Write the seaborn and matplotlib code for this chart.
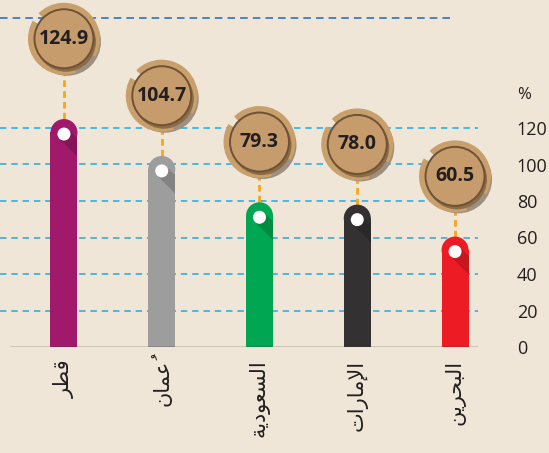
import numpy as np
import pandas as pd
import seaborn as sns
import matplotlib
matplotlib.use("Agg")
import matplotlib.pyplot as plt
import matplotlib.transforms as mtransforms
from matplotlib.patches import Circle, Wedge, Polygon

# ---------------- data ----------------
countries = ["قطر", "عُمان", "السعودية", "الإمارات", "البحرين"]
values = [124.9, 104.7, 79.3, 78.0, 60.5]
value_labels = ["124.9", "104.7", "79.3", "78.0", "60.5"]
bar_colors = ["#a0196a", "#9d9d9d", "#00a651", "#333132", "#ed1c24"]
y_ticks = [0, 20, 40, 60, 80, 100, 120]
unit_label = "%"

# ---------------- simple Arabic shaper (presentation forms) ----------------
FORMS = {
    'ا': ('\uFE8D', '\uFE8E', None, None),
    'إ': ('\uFE87', '\uFE88', None, None),
    'ب': ('\uFE8F', '\uFE90', '\uFE91', '\uFE92'),
    'ة': ('\uFE93', '\uFE94', None, None),
    'ت': ('\uFE95', '\uFE96', '\uFE97', '\uFE98'),
    'ح': ('\uFEA1', '\uFEA2', '\uFEA3', '\uFEA4'),
    'د': ('\uFEA9', '\uFEAA', None, None),
    'ر': ('\uFEAD', '\uFEAE', None, None),
    'س': ('\uFEB1', '\uFEB2', '\uFEB3', '\uFEB4'),
    'ط': ('\uFEC1', '\uFEC2', '\uFEC3', '\uFEC4'),
    'ع': ('\uFEC9', '\uFECA', '\uFECB', '\uFECC'),
    'ق': ('\uFED5', '\uFED6', '\uFED7', '\uFED8'),
    'ل': ('\uFEDD', '\uFEDE', '\uFEDF', '\uFEE0'),
    'م': ('\uFEE1', '\uFEE2', '\uFEE3', '\uFEE4'),
    'ن': ('\uFEE5', '\uFEE6', '\uFEE7', '\uFEE8'),
    'و': ('\uFEED', '\uFEEE', None, None),
    'ي': ('\uFEF1', '\uFEF2', '\uFEF3', '\uFEF4'),
}
LAM_ALEF = {'ا': ('\uFEFB', '\uFEFC'), 'إ': ('\uFEF9', '\uFEFA')}
HARAKAT = set('\u064B\u064C\u064D\u064E\u064F\u0650\u0651\u0652')


def shape(word):
    units = []
    for ch in word:
        if ch in HARAKAT and units:
            units[-1][1] += ch
        else:
            units.append([ch, ''])
    merged = []
    k = 0
    while k < len(units):
        c, m = units[k]
        if c == 'ل' and k + 1 < len(units) and units[k + 1][0] in LAM_ALEF:
            merged.append(['LA' + units[k + 1][0], m + units[k + 1][1]])
            k += 2
        else:
            merged.append([c, m])
            k += 1

    def joins_left(c):
        if c.startswith('LA'):
            return False
        return FORMS[c][2] is not None

    out = []
    n = len(merged)
    for k, (c, m) in enumerate(merged):
        prev = k > 0 and joins_left(merged[k - 1][0])
        nxt = (k + 1 < n) and joins_left(c)
        if c.startswith('LA'):
            g = LAM_ALEF[c[2]][1 if prev else 0]
        else:
            iso, fin, ini, med = FORMS[c]
            if prev and nxt:
                g = med
            elif prev:
                g = fin
            elif nxt:
                g = ini
            else:
                g = iso
        out.append(g + m)
    return ''.join(reversed(out))


# ---------------- style ----------------
BG = "#efe6d8"
TXT = "#231f20"
sns.set_style("white")
plt.rcParams['font.family'] = ['Open Sans', 'DejaVu Sans']

W, H = 549, 453
fig = plt.figure(figsize=(W / 100, H / 100), dpi=100, facecolor=BG)
AX_L, AX_R, AX_B = 10, 478, 347  # pixel geometry
ax = fig.add_axes([AX_L / W, (H - AX_B) / H, (AX_R - AX_L) / W, AX_B / H])
ax.set_facecolor(BG)

PPU = 219 / 120.0           # pixels per y unit
YMAX = AX_B / PPU
XL, XR = -0.552, 4.235
PPX = (AX_R - AX_L) / (XR - XL)

shaped = [shape(c) for c in countries]
df = pd.DataFrame({"country": shaped, "value": values})
sns.barplot(data=df, x="country", y="value", hue="country", palette=bar_colors,
            width=27 / PPX, saturation=1, legend=False, ax=ax, zorder=3)
ax.set_xlim(XL, XR)
ax.set_ylim(0, YMAX)
bars = list(ax.patches)[:len(values)]


def px_trans(x, y):
    return mtransforms.ScaledTranslation(x, y, ax.transData)


# grid lines
for t in y_ticks[1:]:
    ax.axhline(t, xmin=-10 / (AX_R - AX_L), xmax=1, color="#1fa9e6", lw=1.1,
               ls=(0, (4.2, 3.2)), zorder=1, clip_on=False)
ax.hlines(180, XL - 10 / PPX, XL + (452 - AX_L) / PPX, color="#3b7cc2", lw=1.3,
          ls=(0, (4.2, 2.8)), zorder=1, clip_on=False)
ax.axhline(0, color="#3a3536", lw=1.0, zorder=4)

# rounded bars, dots, connectors, badges
R = 13.5
r_data = R / PPU
badge_gap = [44, 33, 33, 33, 33]
for p, v, c, lab, gap in zip(bars, values, bar_colors, value_labels, badge_gap):
    xc = p.get_x() + p.get_width() / 2
    p.set_height(v - r_data + 0.3)
    p.set_edgecolor("none")
    ax.add_patch(Circle((0, 0), R, transform=px_trans(xc, v - r_data),
                        color=c, zorder=3, lw=0, clip_on=False))
    # dot shadow streak
    L = 28
    nrm = 6.5 / np.sqrt(2)
    sh = Polygon([(nrm, nrm), (-nrm, -nrm), (-nrm + L, -nrm - L), (nrm + L, nrm - L)],
                 closed=True, transform=mtransforms.Affine2D().translate(0, -15) + px_trans(xc, v),
                 color="black", alpha=0.16, lw=0, zorder=3.2)
    ax.add_patch(sh)
    sh.set_clip_path(p)
    ax.add_patch(Circle((0, -15), 6.5, transform=px_trans(xc, v),
                        color="white", zorder=3.5, lw=0, clip_on=False))
    # connector
    by = v + gap
    ax.plot([xc, xc], [v, by], color="#f9a51a", lw=2.0, ls=(0, (2.4, 1.5)), zorder=2,
            clip_on=False)
    # badge
    t = px_trans(xc, by)
    ax.add_patch(Circle((3, -3), 34, transform=t, color="#9b9182", lw=0, zorder=5,
                        clip_on=False))
    ax.add_patch(Wedge((0, 0), 36, -30, 135, width=8, transform=t,
                       color="#c9a06c", lw=0, zorder=5.1, clip_on=False))
    ax.add_patch(Wedge((0, 0), 36, 150, 290, width=8, transform=t,
                       color="#c9a06c", lw=0, zorder=5.1, clip_on=False))
    ax.add_patch(Circle((2, -3), 30, transform=t, color="#8d6b47", lw=0, zorder=5.2,
                        clip_on=False))
    ax.add_patch(Circle((0, 0), 29.5, transform=t, facecolor="#c69c6c",
                        edgecolor="#6d5236", lw=1.4, zorder=5.3, clip_on=False))
    ax.text(xc, by, lab, ha="center", va="center", fontsize=14, fontweight="bold",
            color=TXT, zorder=8, clip_on=False)

# axes styling
for s in ax.spines.values():
    s.set_visible(False)
ax.set_xlabel("")
ax.set_ylabel("")
ax.yaxis.tick_right()
ax.set_yticks(y_ticks)
ax.set_yticklabels([str(t) for t in y_ticks])
ax.tick_params(axis="y", length=0, pad=28, labelsize=13, labelcolor=TXT)
ax.tick_params(axis="x", length=0, pad=9, labelsize=15, labelcolor=TXT)
for lbl in ax.get_yticklabels():
    lbl.set_horizontalalignment("left")
for lbl in ax.get_xticklabels():
    lbl.set_rotation(90)
    lbl.set_family(["DejaVu Sans"])
    lbl.set_va("top")
    lbl.set_ha("center")

ax.text((517 - AX_L) / (AX_R - AX_L), 138, unit_label, fontsize=12, color=TXT,
        ha="left", va="center",
        transform=mtransforms.blended_transform_factory(ax.transAxes, ax.transData))

fig.savefig("out.png", dpi=100, facecolor=BG)
